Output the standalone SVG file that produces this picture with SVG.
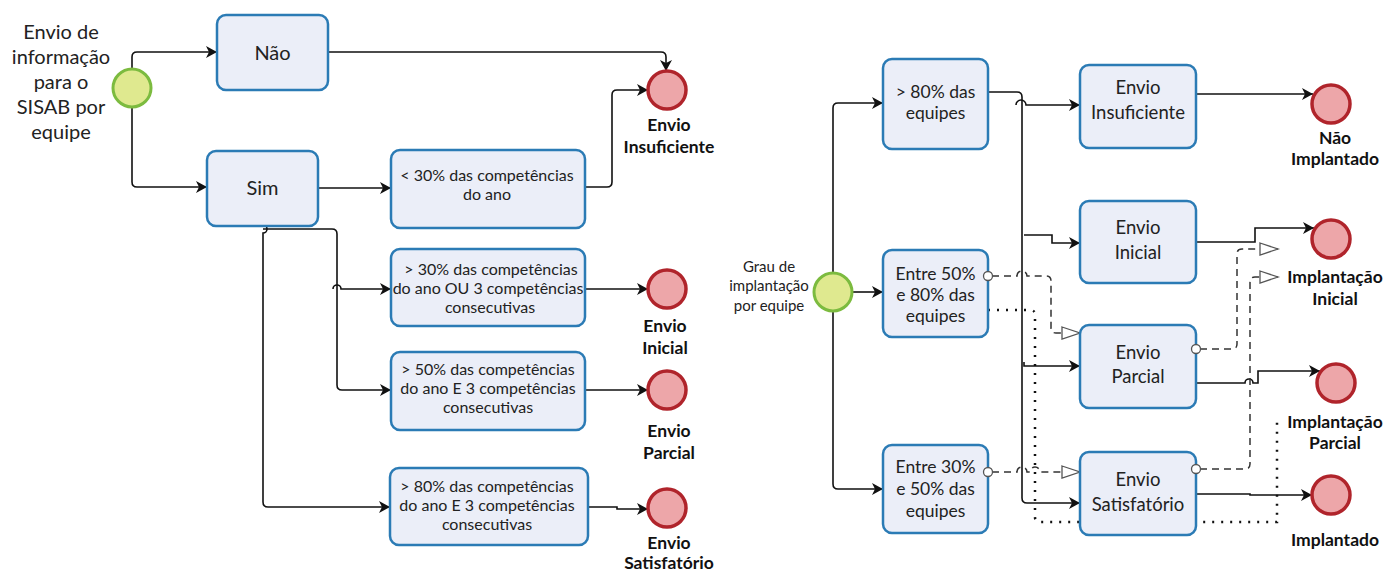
<svg xmlns="http://www.w3.org/2000/svg" width="1400" height="572" viewBox="0 0 1400 572">
<defs>
<marker id="arr" markerUnits="userSpaceOnUse" markerWidth="12" markerHeight="12" refX="11" refY="6" orient="auto">
<path d="M0,0 L11,6 L0,12 L3,6 z" fill="#111"/>
</marker>
<marker id="tri" markerUnits="userSpaceOnUse" markerWidth="22" markerHeight="16" refX="19" refY="7" orient="auto">
<path d="M1,1 L19,7 L1,13 z" fill="#fff" stroke="#555" stroke-width="1.3"/>
</marker>
<style>
.box{fill:#ebeef8;stroke:#2b7bb5;stroke-width:2.5}
.start{fill:#dfe98f;stroke:#7cbb3f;stroke-width:3}
.end{fill:#eda6a9;stroke:#b0242b;stroke-width:3.5}
.fl{fill:none;stroke:#111;stroke-width:1.6}
.ds{fill:none;stroke:#333;stroke-width:1.5;stroke-dasharray:7,5}
.dt{fill:none;stroke:#111;stroke-width:2.5;stroke-dasharray:2,7}
.mc{fill:#fff;stroke:#555;stroke-width:1.3}
text{font-family:Lato,"Open Sans","DejaVu Sans",sans-serif;fill:#222;text-anchor:middle}
.t20{font-size:20px}
.t15{font-size:16px}
.t16{font-size:15px}
.t17{font-size:17.5px}
.t18{font-size:18.5px}
.b{font-size:17.5px;font-weight:700;fill:#111}
</style>
</defs>

<g id="connectors">
<path class="fl" d="M132,69 V57 Q132,52 137,52 H217" marker-end="url(#arr)"/>
<path class="fl" d="M132,107 V182 Q132,187 137,187 H207" marker-end="url(#arr)"/>
<path class="fl" d="M328,52 H661 Q666,52 666,57 V71" marker-end="url(#arr)"/>
<path class="fl" d="M318,188 H391" marker-end="url(#arr)"/>
<path class="fl" d="M585,187 H607 Q612,187 612,182 V95 Q612,90 617,90 H648" marker-end="url(#arr)"/>
<path class="fl" d="M263,229 H332 Q337,229 337,234 V385 Q337,390 342,390 H391" marker-end="url(#arr)"/>
<path class="fl" d="M333,289 a4,4 0 0 1 8,0 H391" marker-end="url(#arr)"/>
<path class="fl" d="M263,225 a4,4 0 0 1 0,8 V502 Q263,507 268,507 H390" marker-end="url(#arr)"/>
<path class="fl" d="M585,289 H648" marker-end="url(#arr)"/>
<path class="fl" d="M585,390 H648" marker-end="url(#arr)"/>
<path class="fl" d="M588,507 H617 V509 H648" marker-end="url(#arr)"/>
<path class="fl" d="M833,273 V108 Q833,103 838,103 H883" marker-end="url(#arr)"/>
<path class="fl" d="M852,292 H883" marker-end="url(#arr)"/>
<path class="fl" d="M833,311 V484 Q833,489 838,489 H883" marker-end="url(#arr)"/>
<path class="dt" d="M988,310 H1030 Q1035,310 1035,315 V517 Q1035,522 1040,522 H1277 V422"/>
<path class="fl" d="M988,92 H1017 Q1022,92 1022,97 V498 Q1022,503 1027,503 H1080" marker-end="url(#arr)"/>
<path class="fl" d="M1016,105 a5,5 0 0 1 10,0 H1080" marker-end="url(#arr)"/>
<path class="fl" d="M1024,235 H1052 V243 H1080" marker-end="url(#arr)"/>
<path class="fl" d="M1024,362 V366 H1080" marker-end="url(#arr)"/>
<path class="ds" d="M992,276 H1017 a5,5 0 0 1 10,0 H1046 Q1051,276 1051,281 V328 Q1051,333 1056,333 H1080" marker-end="url(#tri)"/>
<path class="ds" d="M992,472 H1017 a5,5 0 0 1 10,0 H1030 a5,5 0 0 1 10,0 H1080" marker-end="url(#tri)"/>
<path class="fl" d="M1196,94 H1313" marker-end="url(#arr)"/>
<path class="fl" d="M1196,242 H1255 V228 H1314" marker-end="url(#arr)"/>
<path class="fl" d="M1196,383 H1245 a4,4 0 0 1 8,0 H1258 V371 H1320" marker-end="url(#arr)"/>
<path class="fl" d="M1196,494 H1250 V495 H1312" marker-end="url(#arr)"/>
<path class="ds" d="M1200,349 H1232 Q1237,349 1237,344 V254 Q1237,249 1242,249 H1278" marker-end="url(#tri)"/>
<path class="ds" d="M1200,469 H1245 Q1250,469 1250,464 V282 Q1250,277 1255,277 H1278" marker-end="url(#tri)"/>
</g>

<g id="titleLeft">
<text class="t20" x="61" y="39">Envio de</text>
<text class="t20" x="61" y="64">informação</text>
<text class="t20" x="61" y="89">para o</text>
<text class="t20" x="61" y="114">SISAB por</text>
<text class="t20" x="61" y="139">equipe</text>
</g>
<g id="startLeft"><circle class="start" cx="132" cy="88" r="19"/></g>
<g id="nao"><rect class="box" x="217" y="15" width="111" height="75" rx="9"/><text class="t20" x="272.5" y="60">Não</text></g>
<g id="sim"><rect class="box" x="207" y="151" width="111" height="75" rx="9"/><text class="t20" x="262.5" y="195">Sim</text></g>
<g id="c30"><rect class="box" x="391" y="150" width="194" height="78" rx="9"/>
<text class="t15" x="487" y="181">&lt; 30% das competências</text><text class="t15" x="487" y="200">do ano</text></g>
<g id="c30ou"><rect class="box" x="391" y="249" width="194" height="77" rx="9"/>
<text class="t15" x="491" y="275">&gt; 30% das competências</text><text class="t15" x="488" y="294">do ano OU 3 competências</text><text class="t15" x="490" y="313">consecutivas</text></g>
<g id="c50"><rect class="box" x="391" y="352" width="194" height="78" rx="9"/>
<text class="t15" x="488" y="375">&gt; 50% das competências</text><text class="t15" x="488" y="394">do ano E 3 competências</text><text class="t15" x="488" y="413">consecutivas</text></g>
<g id="c80"><rect class="box" x="390" y="468" width="198" height="77" rx="9"/>
<text class="t15" x="487" y="492">&gt; 80% das competências</text><text class="t15" x="487" y="511">do ano E 3 competências</text><text class="t15" x="487" y="530">consecutivas</text></g>
<g id="endInsuf"><circle class="end" cx="667" cy="90" r="19"/><text class="b" x="669" y="131">Envio</text><text class="b" x="669" y="153">Insuficiente</text></g>
<g id="endInicial"><circle class="end" cx="667" cy="289" r="19"/><text class="b" x="665" y="332">Envio</text><text class="b" x="665" y="354">Inicial</text></g>
<g id="endParcial"><circle class="end" cx="667" cy="390" r="19"/><text class="b" x="669" y="437">Envio</text><text class="b" x="669" y="459">Parcial</text></g>
<g id="endSatisf"><circle class="end" cx="667" cy="508" r="19"/><text class="b" x="669" y="549">Envio</text><text class="b" x="669" y="569">Satisfatório</text></g>

<g id="titleRight">
<text class="t16" x="769" y="272">Grau de</text>
<text class="t16" x="769" y="291">implantação</text>
<text class="t16" x="769" y="311">por equipe</text>
</g>
<g id="startRight"><circle class="start" cx="833" cy="292" r="19"/></g>
<g id="e80"><rect class="box" x="883" y="59" width="105" height="90" rx="9"/>
<text class="t17" x="935.5" y="98">&gt; 80% das</text><text class="t17" x="935.5" y="119">equipes</text></g>
<g id="e50"><rect class="box" x="883" y="250" width="105" height="87" rx="9"/>
<text class="t17" x="935.5" y="280">Entre 50%</text><text class="t17" x="935.5" y="301">e 80% das</text><text class="t17" x="935.5" y="322">equipes</text></g>
<g id="e30"><rect class="box" x="883" y="445" width="105" height="88" rx="9"/>
<text class="t17" x="935.5" y="473">Entre 30%</text><text class="t17" x="935.5" y="495">e 50% das</text><text class="t17" x="935.5" y="517">equipes</text></g>
<g id="bInsuf"><rect class="box" x="1080" y="65" width="116" height="83" rx="9"/>
<text class="t18" x="1138" y="94">Envio</text><text class="t18" x="1138" y="119">Insuficiente</text></g>
<g id="bInicial"><rect class="box" x="1080" y="201" width="116" height="82" rx="9"/>
<text class="t18" x="1138" y="234">Envio</text><text class="t18" x="1138" y="259">Inicial</text></g>
<g id="bParcial"><rect class="box" x="1080" y="325" width="116" height="83" rx="9"/>
<text class="t18" x="1138" y="359">Envio</text><text class="t18" x="1138" y="383">Parcial</text></g>
<g id="bSatisf"><rect class="box" x="1080" y="452" width="116" height="83" rx="9"/>
<text class="t18" x="1138" y="486">Envio</text><text class="t18" x="1138" y="511">Satisfatório</text></g>
<g id="msgMarkers">
<circle class="mc" cx="988" cy="276" r="4.5"/>
<circle class="mc" cx="988" cy="472" r="4.5"/>
<circle class="mc" cx="1196" cy="349" r="4.5"/>
<circle class="mc" cx="1196" cy="469" r="4.5"/>
</g>
<g id="endNaoImpl"><circle class="end" cx="1331" cy="104" r="19"/><text class="b" x="1335" y="144">Não</text><text class="b" x="1335" y="165">Implantado</text></g>
<g id="endImplInicial"><circle class="end" cx="1331" cy="239" r="19"/><text class="b" x="1335" y="283">Implantação</text><text class="b" x="1335" y="305">Inicial</text></g>
<g id="endImplParcial"><circle class="end" cx="1336" cy="383" r="19"/><text class="b" x="1335" y="428">Implantação</text><text class="b" x="1335" y="449">Parcial</text></g>
<g id="endImpl"><circle class="end" cx="1331" cy="495" r="19"/><text class="b" x="1335" y="546">Implantado</text></g>
</svg>
